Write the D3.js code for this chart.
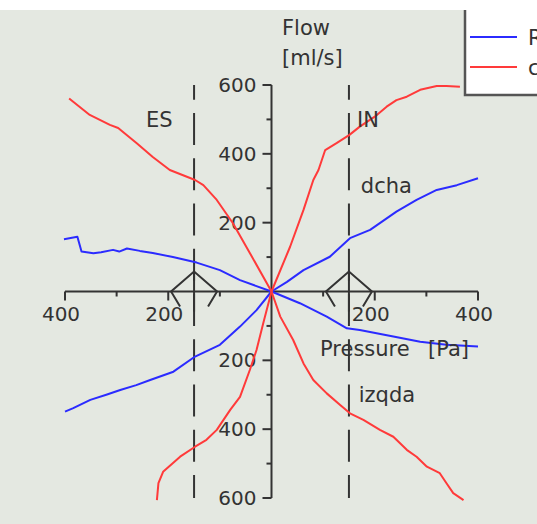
<!DOCTYPE html>
<html><head><meta charset="utf-8">
<script src="https://cdn.jsdelivr.net/npm/d3@7"></script>
<style>html,body{margin:0;padding:0;background:#fff;}svg{display:block;}</style>
</head><body>
<svg id="chart" width="537" height="524"></svg>
<script>
// ---- data (pressure [Pa], flow [ml/s]) ----
const blueDchaP = [-400,-384,-351,-320,-293,-262,-235,-190,-148,-100,-61,-29,0,30,62,113,152,191,242,281,320,359,400];
const blueDchaQ = [-349,-339,-315,-300,-286,-272,-257,-233,-189,-155,-102,-54,0,28,62,101,155,179,232,266,295,309,329];
const blueIzqP = [-402,-376,-368,-345,-330,-307,-295,-280,-255,-230,-191,-145,-100,-61,0,55,107,146,171,236,288,339,400];
const blueIzqQ = [152,159,116,111,114,121,116,125,118,112,100,84,62,33,0,-34,-73,-107,-112,-131,-146,-155,-160];
const redDchaP = [-222,-219,-210,-177,-148,-126,-106,-80,-61,-42,-29,-16,0,36,62,81,91,104,126,151,171,200,223,242,262,288,320,339,365];
const redDchaQ = [-606,-557,-524,-480,-451,-431,-402,-344,-306,-228,-170,-92,0,130,237,324,353,411,431,455,479,508,537,556,566,586,597,597,595];
const redIzqP = [-392,-352,-313,-297,-261,-230,-197,-148,-132,-106,-75,-42,0,17,42,62,81,107,133,152,178,210,236,262,281,301,326,339,352,372];
const redIzqQ = [561,513,484,475,431,391,353,324,309,266,199,112,0,-73,-141,-209,-257,-296,-330,-354,-373,-402,-422,-460,-480,-509,-528,-557,-586,-606];

const xMajor = [-400,-200,200,400];
const xMinor = [-300,-100,100,300];
const yMajor = [-600,-400,-200,200,400,600];
const yMinor = [-500,-300,-100,100,300,500];
const markerP = [-150,150];
const markerText = ["ES","IN"];
const curveLabels = [{t:"dcha",p:173,q:285},{t:"izqda",p:169,q:-320}];
const legendNames = ["Real","calculado"];
const legendColors = ["#2b2bff","#ff3a3a"];

const svg = d3.select("#chart");
const W = 537, H = 524;
const font = "DejaVu Sans, Verdana, sans-serif";
const ink = "#333";

svg.append("rect").attr("width",W).attr("height",H).attr("fill","#e4e8e1");
svg.append("rect").attr("width",W).attr("height",10).attr("fill","#fff");

const x = d3.scaleLinear().domain([-400,400]).range([65,478]);
const y = d3.scaleLinear().domain([-600,600]).range([498,85]);
const x0 = x(0), y0 = y(0);

// dashed lines
svg.selectAll(".dash").data(markerP).join("line")
  .attr("x1",d=>x(d)).attr("x2",d=>x(d)).attr("y1",y(600)).attr("y2",y(-600))
  .attr("stroke",ink).attr("stroke-width",2)
  .attr("stroke-dasharray","32,13.25").attr("stroke-dashoffset",17.25);

// axes
const g = svg.append("g").attr("stroke",ink).attr("stroke-width",2).attr("fill","none");
g.append("line").attr("x1",x(-400)).attr("x2",x(400)).attr("y1",y0).attr("y2",y0);
g.append("line").attr("x1",x0).attr("x2",x0).attr("y1",y(600)).attr("y2",y(-600));
g.selectAll(".xmaj").data(xMajor).join("line").attr("x1",d=>x(d)).attr("x2",d=>x(d)).attr("y1",y0).attr("y2",y0+9);
g.selectAll(".xmin").data(xMinor).join("line").attr("x1",d=>x(d)).attr("x2",d=>x(d)).attr("y1",y0).attr("y2",y0+5);
g.selectAll(".ymaj").data(yMajor).join("line").attr("y1",d=>y(d)).attr("y2",d=>y(d)).attr("x1",x0).attr("x2",x0-9);
g.selectAll(".ymin").data(yMinor).join("line").attr("y1",d=>y(d)).attr("y2",d=>y(d)).attr("x1",x0).attr("x2",x0-5);

// markers on x axis
markerP.forEach(p=>{
  const xd = x(p);
  const path = d3.path();
  path.moveTo(xd-14,y0+15); path.lineTo(xd-23,y0); path.lineTo(xd,y0-20); path.lineTo(xd+23,y0); path.lineTo(xd+14,y0+15);
  path.moveTo(xd,y0-20); path.lineTo(xd,y0+20);
  g.append("path").attr("d",path.toString());
});

// tick labels
const tl = svg.append("g").attr("font-family",font).attr("font-size",20).attr("fill",ink);
tl.selectAll(".xl").data(xMajor).join("text").attr("x",d=>x(d)-4).attr("y",y0+29)
  .attr("text-anchor","middle").text(d=>Math.abs(d));
tl.selectAll(".yl").data(yMajor).join("text").attr("x",x0-15).attr("y",d=>y(d)+7)
  .attr("text-anchor","end").text(d=>Math.abs(d));

// curves
const line = d3.line().x(d=>x(d[0])).y(d=>y(d[1]));
const curves = [
  [blueDchaP,blueDchaQ,legendColors[0]],
  [blueIzqP,blueIzqQ,legendColors[0]],
  [redDchaP,redDchaQ,legendColors[1]],
  [redIzqP,redIzqQ,legendColors[1]]
];
curves.forEach(([P,Q,c])=>{
  svg.append("path").datum(P.map((p,i)=>[p,Q[i]])).attr("d",line)
    .attr("fill","none").attr("stroke",c).attr("stroke-width",2).attr("stroke-linejoin","round");
});

// labels
const lab = svg.append("g").attr("font-family",font).attr("font-size",21).attr("fill",ink);
lab.append("text").attr("x",282).attr("y",35).text("Flow");
lab.append("text").attr("x",282).attr("y",65).text("[ml/s]");
lab.append("text").attr("x",x(-150)-48).attr("y",127).text(markerText[0]);
lab.append("text").attr("x",x(150)+8).attr("y",127).text(markerText[1]);
curveLabels.forEach(c=>lab.append("text").attr("x",x(c.p)).attr("y",y(c.q)).text(c.t));
lab.append("text").attr("x",320).attr("y",356).text("Pressure");
lab.append("text").attr("x",428).attr("y",356).text("[Pa]");

// legend
const lg = svg.append("g");
lg.append("rect").attr("x",465).attr("y",10).attr("width",80).attr("height",85).attr("fill","#fff");
lg.append("path").attr("d","M465,10V95H545").attr("fill","none").attr("stroke","#555").attr("stroke-width",2.5);
legendNames.forEach((n,i)=>{
  const ly = 37 + i*30;
  lg.append("line").attr("x1",470).attr("x2",517).attr("y1",ly).attr("y2",ly)
    .attr("stroke",legendColors[i]).attr("stroke-width",2);
  lg.append("text").attr("x",528).attr("y",ly+8).attr("font-family",font).attr("font-size",21)
    .attr("fill",ink).text(n);
});
</script>
</body></html>
